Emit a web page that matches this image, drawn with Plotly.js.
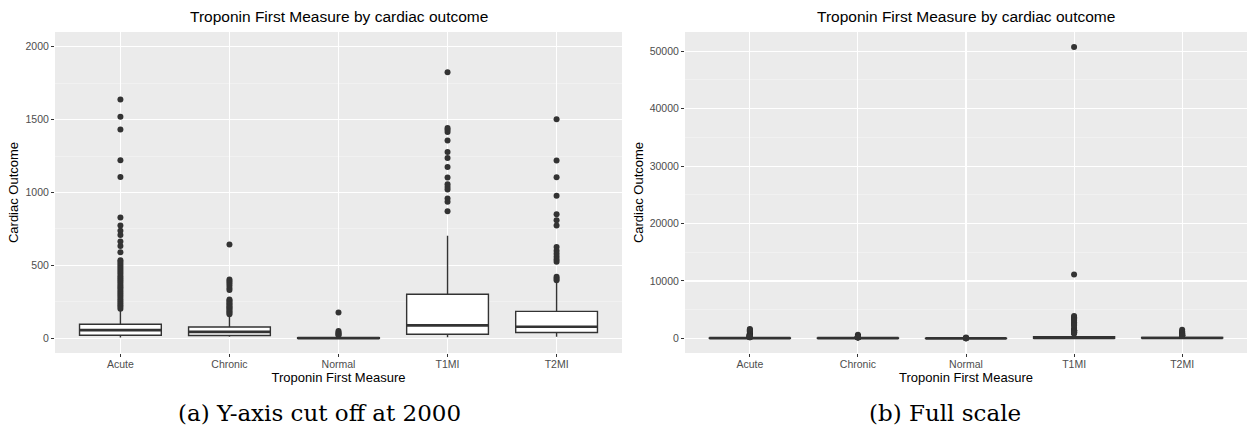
<!DOCTYPE html>
<html>
<head>
<meta charset="utf-8">
<script src="https://cdn.plot.ly/plotly-3.0.1.min.js"></script>
<style>html,body{margin:0;padding:0;background:#fff;}#chart{width:1247px;height:439px;}</style>
</head>
<body>
<div id="chart"></div>
<script>
// ---- data ----
const categories = ['Acute', 'Chronic', 'Normal', 'T1MI', 'T2MI'];
const q1 = [22, 20, 0, 29, 41];
const medians = [57, 45, 2, 89, 80];
const q3 = [97, 78, 5, 303, 185];
const lowerFence = [7, 11, 0, 8, 11];
const upperFence = [194, 160, 12, 703, 388];

const acuteOutliers = [1637, 1520, 1431, 1221, 1107, 829, 774, 737, 708, 664, 634, 591, 536, 524, 510, 497, 483, 468, 455, 441, 426, 412, 398, 385, 370, 356, 343, 329, 314, 301, 287, 272, 258, 245, 231, 218, 204];
const chronicOutliers = [644, 404, 392, 378, 362, 346, 331, 267, 258, 249, 240, 231, 221, 212, 203, 194, 185, 176, 166];
const normalOutliers = [178, 50, 41, 33, 26, 21];
const t1miOutliers = [50713, 11130, 3900, 3700, 3500, 3300, 3100, 2800, 2600, 2400, 2250, 1824, 1442, 1430, 1415, 1356, 1278, 1237, 1175, 1103, 1057, 1038, 1020, 959, 936, 872];
const t2miOutliers = [1502, 1219, 1105, 977, 851, 810, 774, 627, 600, 580, 560, 540, 525, 422, 410, 399];

const panelTitle = 'Troponin First Measure by cardiac outcome';
const xTitle = 'Troponin First Measure';
const yTitle = 'Cardiac Outcome';
const captions = ['(a) Y-axis cut off at 2000', '(b) Full scale'];

// ---- build traces ----
const outlierSets = [acuteOutliers, chronicOutliers, normalOutliers, t1miOutliers, t2miOutliers];
const outX = [], outY = [];
outlierSets.forEach((arr, i) => arr.forEach(v => { outX.push(categories[i]); outY.push(v); }));

const lineCol = '#333333';
function boxTrace(xa, ya) {
  return {
    type: 'box', x: categories, q1: q1, median: medians, q3: q3,
    lowerfence: lowerFence, upperfence: upperFence,
    xaxis: xa, yaxis: ya, width: 0.75, whiskerwidth: 0,
    fillcolor: '#ffffff', line: {color: lineCol, width: 1.4},
    boxpoints: false, hoverinfo: 'skip', showlegend: false
  };
}
// thicker median bar, drawn as a zero-height box at each median
function medianTrace(xa, ya) {
  return {
    type: 'box', x: categories, q1: medians, median: medians, q3: medians,
    lowerfence: medians, upperfence: medians,
    xaxis: xa, yaxis: ya, width: 0.75, whiskerwidth: 0,
    fillcolor: 'rgba(0,0,0,0)', line: {color: lineCol, width: 2.6},
    boxpoints: false, hoverinfo: 'skip', showlegend: false
  };
}
function outTrace(xa, ya) {
  return {
    type: 'scatter', mode: 'markers', x: outX, y: outY, xaxis: xa, yaxis: ya,
    marker: {color: lineCol, size: 6}, showlegend: false, hoverinfo: 'skip'
  };
}
const traces = [boxTrace('x', 'y'), medianTrace('x', 'y'), outTrace('x', 'y'),
                boxTrace('x2', 'y2'), medianTrace('x2', 'y2'), outTrace('x2', 'y2')];

const W = 1247, H = 439;
const px = v => v / W, py = v => 1 - v / H;
const tickFont = {family: 'Liberation Sans, Arial, sans-serif', size: 10.5, color: '#4d4d4d'};
const titleFont = {family: 'Liberation Sans, Arial, sans-serif', size: 13, color: '#000000'};

function xAxis(domain, anchor) {
  return {
    domain: domain, anchor: anchor, type: 'category', categoryorder: 'array', categoryarray: categories,
    range: [-0.6, 4.6], showgrid: true, gridcolor: '#ffffff', gridwidth: 1.1,
    ticks: 'outside', ticklen: 3, tickcolor: lineCol, tickwidth: 1, ticklabelstandoff: -2,
    tickfont: tickFont, zeroline: false, showline: false, fixedrange: true,
    title: {text: xTitle, font: titleFont, standoff: 1}
  };
}
function yAxis(domain, anchor, range, dtick) {
  return {
    domain: domain, anchor: anchor, range: range, tick0: 0, dtick: dtick, tickformat: 'd',
    showgrid: true, gridcolor: '#ffffff', gridwidth: 1.1,
    minor: {dtick: dtick / 2, tick0: 0, showgrid: true, gridcolor: '#f5f5f5', gridwidth: 0.6, ticks: ''},
    ticks: 'outside', ticklen: 3, tickcolor: lineCol, tickwidth: 1,
    tickfont: tickFont, zeroline: false, showline: false, fixedrange: true,
    title: {text: yTitle, font: titleFont, standoff: 3}
  };
}

const plotTop = 32, plotBottom = 353;
const yDom = [py(plotBottom), py(plotTop)];
const leftDom = [px(55), px(622)];
const rightDom = [px(685), px(1247)];
const headFont = {family: 'Liberation Sans, Arial, sans-serif', size: 15.5, color: '#000'};
const capFont = {family: 'DejaVu Serif, serif', size: 23, color: '#000'};

const layout = {
  width: W, height: H,
  margin: {l: 0, r: 0, t: 0, b: 0},
  paper_bgcolor: '#ffffff', plot_bgcolor: '#ebebeb',
  font: {family: 'Liberation Sans, Arial, sans-serif'},
  showlegend: false,
  boxmode: 'overlay',
  xaxis: xAxis(leftDom, 'y'),
  yaxis: yAxis(yDom, 'x', [-100, 2100], 500),
  xaxis2: xAxis(rightDom, 'y2'),
  yaxis2: yAxis(yDom, 'x2', [-2540, 53340], 10000),
  annotations: [
    {text: panelTitle, xref: 'paper', yref: 'paper', x: (leftDom[0] + leftDom[1]) / 2, y: py(17),
     xanchor: 'center', yanchor: 'middle', showarrow: false, font: headFont},
    {text: panelTitle, xref: 'paper', yref: 'paper', x: (rightDom[0] + rightDom[1]) / 2, y: py(17),
     xanchor: 'center', yanchor: 'middle', showarrow: false, font: headFont},
    {text: captions[0], xref: 'paper', yref: 'paper', x: px(319), y: py(413),
     xanchor: 'center', yanchor: 'middle', showarrow: false, font: capFont},
    {text: captions[1], xref: 'paper', yref: 'paper', x: px(945), y: py(413),
     xanchor: 'center', yanchor: 'middle', showarrow: false, font: capFont}
  ]
};

Plotly.newPlot('chart', traces, layout, {displayModeBar: false, staticPlot: true});
</script>
</body>
</html>
